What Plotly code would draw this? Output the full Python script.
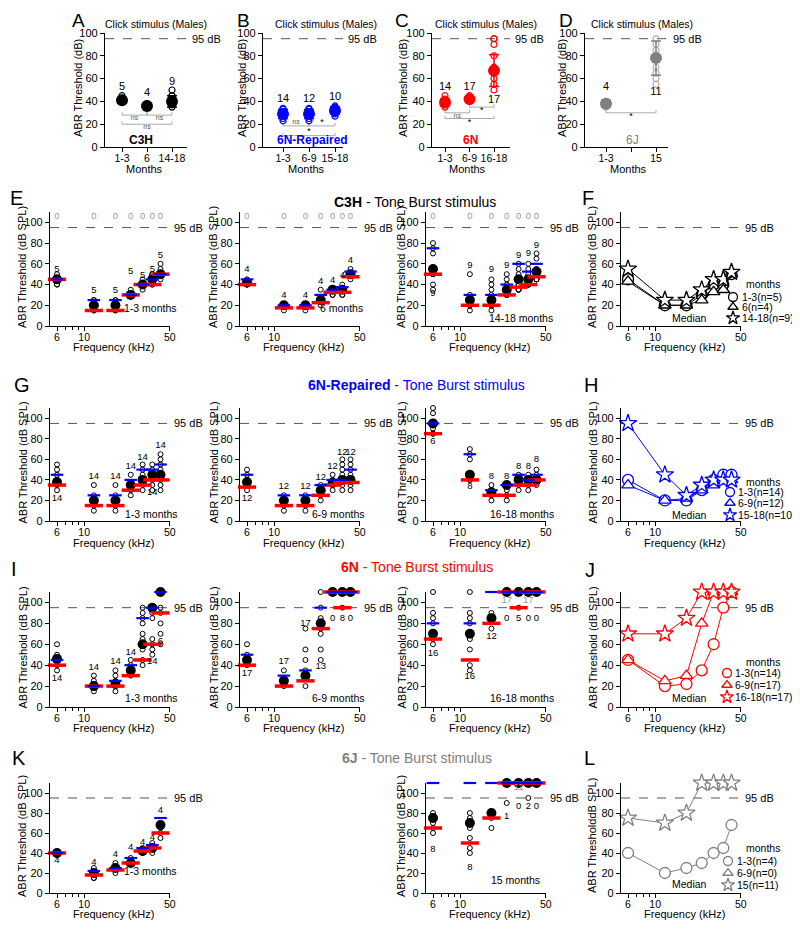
import math
import plotly.graph_objects as go

# page body has an 8px margin: figure is drawn 8px right/down, so size it to fit
OFF = 8
W, H = 800 - OFF, 930 - OFF

# ------------------------------------------------------------------ DATA
FREQ = [6, 12, 18, 24, 30, 36, 42]

# Row 1: click stimulus
A_cats = ["1-3", "6", "14-18"]
A_mean = [41, 36, 40]
A_sd = [2, 2, 5]
A_ind = [[40, 40, 42, 43, 45], [35, 35, 36, 38], [35, 37, 38, 40, 40, 42, 45, 45, 50]]
A_n = ["5", "4", "9"]
A_n_y = [52, 47, 57]
A_br = [(0, 1, 28, "ns", 25.5), (1, 2, 28, "ns", 25.5), (0, 2, 20, "ns", 17.5)]

B_cats = ["1-3", "6-9", "15-18"]
B_mean = [29, 29, 32]
B_sd = [4, 4, 3]
B_ind = [[23, 25, 27, 29, 31, 33, 34], [23, 25, 27, 29, 31, 33, 34], [27, 29, 31, 33, 35, 36]]
B_n = ["14", "12", "10"]
B_n_y = [42, 42, 44]
B_br = [(0, 1, 18.5, "ns", 22), (1, 2, 18.5, "*", 21.5), (0, 2, 10, "*", 13.5)]

C_cats = ["1-3", "6-9", "16-18"]
C_mean = [39, 42, 67]
C_sd = [3, 2, 14]
C_ind = [[35, 37, 40, 42, 45], [40, 42, 43, 45], [95, 95, 90, 80, 70, 65, 60, 55, 50]]
C_n = ["14", "17", "17"]
C_n_y = [52, 52, 41]
C_br = [(0, 1, 30, "ns", 27), (1, 2, 35, "*", 32), (0, 2, 25, "*", 21)]

D_cats = ["1-3", "", "15"]
D_pos = [0, 2]
D_mean = [38, 78]
D_sd = [3, 15]
D_ind = [[35, 37, 40], [95, 90, 85, 80, 70, 65, 60, 55]]
D_n = ["4", "11"]
D_n_y = [52, 48]
D_br = [(0, 2, 30, "*", 26.5)]

# Tone burst panels: mean (black), median (red bar), upper (blue bar)
E1_mean = [45, 20, 20, 30, 40, 45, 50]
E1_med = [45, 15, 15, 30, 40, 40, 50]
E1_up = [45, 25, 25, 30, 40, 45, 50]
E1_ind = [[40, 40, 45, 45, 50], [15, 15, 20, 25, 25], [15, 15, 20, 25, 25], [30, 30, 30, 30, 35],
          [35, 40, 40, 40, 45], [40, 40, 45, 50, 50], [45, 50, 50, 55, 60]]
E1_n = ["5", "5", "5", "5", "5", "5", "5"]
E1_n_y = [54, 34, 34, 52, 49, 54, 68]
E1_cnt = ["0", "0", "0", "0", "0", "0", "0"]
E1_cnt_y = [105.5] * 7

E2_mean = [42, 20, 20, 25, 35, 35, 50]
E2_med = [40, 17.5, 17.5, 22.5, 32.5, 32.5, 47.5]
E2_up = [45, 20, 20, 30, 35, 37.5, 52.5]
E2_ind = [[40, 40, 40, 45], [15, 20, 20, 20], [15, 20, 20, 20], [20, 25, 25, 35],
          [30, 30, 35, 35], [30, 30, 35, 40], [45, 50, 50, 55]]
E2_n = ["4", "4", "4", "4", "4", "4", "4"]
E2_n_y = [54, 29, 29, 43, 44, 49, 63]
E2_cnt = ["0", "0", "0", "0", "0", "0", "0"]
E2_cnt_y = [105.5] * 7

E3_mean = [55, 25, 25, 35, 45, 45, 52.5]
E3_med = [50, 20, 20, 30, 37.5, 40, 47.5]
E3_up = [75, 30, 30, 40, 60, 52.5, 60]
E3_ind = [[80, 75, 70, 50, 50, 50, 50, 40, 35], [50, 30, 25, 20, 20, 20, 20, 15, 20],
          [45, 40, 35, 30, 20, 20, 20, 15, 20], [50, 45, 40, 35, 30, 30, 30, 30, 30],
          [60, 55, 50, 45, 40, 35, 35, 35, 40], [60, 55, 50, 45, 40, 40, 40, 40, 40],
          [70, 65, 55, 50, 50, 45, 45, 45, 50]]
E3_n = ["9", "9", "9", "9", "9", "9", "9"]
E3_n_y = [31, 58, 54, 58, 68, 70, 78]
E3_cnt = ["0", "0", "0", "0", "0", "0", "0"]
E3_cnt_y = [105.5] * 7

F_c = [45, 20, 20, 30, 40, 40, 50]
F_t = [43, 20, 20, 25, 33, 35, 50]
F_s = [55, 25, 25, 35, 45, 45, 52]
F_leg = ["1-3(n=5)", "6(n=4)", "14-18(n=9)"]

G1_mean = [38, 20, 20, 35, 40, 45, 45]
G1_med = [35, 15, 15, 30, 35, 40, 40]
G1_up = [45, 25, 25, 40, 50, 50, 55]
G1_ind = [[55, 50, 45, 40, 35, 30], [35, 25, 20, 15, 10], [35, 25, 20, 15, 10], [45, 35, 30, 25],
          [55, 50, 45, 40, 35, 30], [55, 50, 45, 40, 35, 30], [65, 60, 55, 50, 45, 40, 35, 30]]
G1_n = ["14", "14", "14", "14", "14", "14", "14"]
G1_n_y = [22, 43, 43, 53, 62, 28, 73]
G1_cnt = ["0", "0", "0", "0", "0", "0", "0"]
G1_cnt_y = [116.5] * 7

G2_mean = [38, 20, 20, 30, 37, 40, 40]
G2_med = [33, 15, 15, 25, 35, 37.5, 37.5]
G2_up = [45, 25, 25, 35, 40, 40, 50]
G2_ind = [[50, 45, 40, 35, 30], [10, 15, 20, 25], [10, 15, 20, 25], [35, 30, 25, 20],
          [45, 40, 35, 30], [60, 55, 50, 45, 40, 35, 30], [60, 55, 50, 45, 40, 35, 30]]
G2_n = ["12", "12", "12", "12", "12", "12", "12"]
G2_n_y = [22, 33, 33, 42, 53, 67, 67]
G2_cnt = ["0", "0", "0", "0", "0", "0", "0"]
G2_cnt_y = [116.5] * 7

G3_mean = [95, 45, 28, 35, 40, 40, 40]
G3_med = [85, 40, 25, 25, 35, 35, 40]
G3_up = [95, 65, 30, 35, 45, 40, 45]
G3_ind = [[110, 105, 95, 90, 85, 85], [70, 65, 60, 45, 40, 40], [35, 30, 25, 20], [35, 30, 25, 20],
          [45, 40, 35, 30], [45, 40, 35, 30], [50, 45, 40, 35]]
G3_n = ["6", "8", "8", "8", "8", "8", "8"]
G3_n_y = [77, 33, 43, 43, 53, 53, 60]
G3_cnt = ["2", "0", "0", "0", "0", "0", "0"]
G3_cnt_y = [116.5] * 7

H_c = [40, 20, 20, 30, 40, 45, 45]
H_t = [35, 20, 22, 30, 35, 40, 40]
H_s = [95, 45, 25, 35, 40, 40, 40]
H_leg = ["1-3(n=14)", "6-9(n=12)", "15-18(n=10)"]

I1_mean = [46, 20, 22, 35, 60, 95, 110]
I1_med = [40, 20, 20, 30, 45, 60, 90]
I1_up = [45, 20, 25, 40, 85, 95, 110]
I1_ind = [[60, 50, 45, 40, 35], [30, 25, 20, 15], [35, 30, 25, 20, 15], [45, 40, 35, 30],
          [95, 90, 85, 80, 70, 65, 60, 55, 45, 40], [95, 90, 85, 65, 60, 55, 50], [95, 90, 80, 70, 60]]
I1_n = ["14", "14", "14", "14", "", "14", "6"]
I1_n_y = [27, 38, 43, 52, 0, 43, 63]
I1_cnt = ["0", "0", "0", "0", "0", "0", "8"]
I1_cnt_y = [118.5] * 7

I2_mean = [45, 25, 30, 80, 110, 110, 110]
I2_med = [40, 20, 25, 75, 110, 95, 110]
I2_up = [50, 30, 35, 95, 110, 110, 110]
I2_ind = [[60, 50, 45, 40], [35, 20], [75, 55, 45, 35, 20], [110, 95, 85, 80, 75, 70, 55, 45],
          [110], [110, 95], [110]]
I2_n = ["17", "17", "17", "13", "0", "8", "0"]
I2_n_y = [32, 43, 80, 39, 85, 85, 85]
I2_cnt = ["0", "0", "0", "4", "17", "9", "17"]
I2_cnt_y = [118.5] * 7

I3_mean = [70, 70, 85, 110, 110, 110, 110]
I3_med = [65, 45, 80, 110, 95, 110, 110]
I3_up = [80, 80, 110, 110, 110, 110, 110]
I3_ind = [[110, 90, 85, 80, 70, 65, 60], [110, 90, 85, 80, 70, 65, 55, 40, 35], [90, 75], [110],
          [110, 95], [110], [110]]
I3_n = ["16", "16", "12", "0", "5", "0", "0"]
I3_n_y = [51, 29, 67, 85, 85, 85, 85]
I3_cnt = ["1", "1", "5", "17", "12", "17", "17"]
I3_cnt_y = [118.5, 118.5, 118.5, 102, 118.5, 102, 118.5]

J_c = [45, 20, 22, 35, 60, 95, 110]
J_t = [45, 25, 30, 80, 110, 110, 110]
J_s = [70, 70, 85, 110, 110, 110, 110]
J_leg = ["1-3(n=14)", "6-9(n=17)", "16-18(n=17)"]

K1_mean = [40, 20, 25, 30, 42, 45, 68]
K1_med = [40, 18, 23, 30, 42, 45, 60]
K1_up = [40, 22, 25, 35, 45, 48, 75]
K1_ind = [[40, 40, 38], [25, 20, 15, 15], [30, 25, 20], [35, 30, 30], [45, 40], [50, 45, 40], [65, 60, 55]]
K1_n = ["4", "4", "4", "4", "4", "4", "4"]
K1_n_y = [32, 30, 38, 45, 50, 55, 82]
K1_cnt = ["0", "0", "0", "0", "0", "0", "0"]
K1_cnt_y = [117] * 7

K3_mean = [75, 70, 80, 110, 110, 110, 110]
K3_med = [65, 50, 75, 110, 110, 110, 110]
K3_up = [110, 110, 110, 110, 110, 110, 110]
K3_ind = [[80, 75, 70, 65, 60], [80, 75, 65, 55, 45, 40], [75, 65], [90], [], [95], []]
K3_n = ["8", "8", "", "1", "0", "2", "0"]
K3_n_y = [43, 25, 0, 76, 86, 86, 86]
K3_cnt = ["3", "3", "5", "10", "11", "9", "11"]
K3_cnt_y = [117, 117, 117, 117, 105, 117, 117]

L_c = [40, 20, 25, 30, 40, 45, 68]
L_s = [75, 70, 80, 110, 110, 110, 110]
L_leg = ["1-3(n=4)", "6-9(n=0)", "15(n=11)"]

# ------------------------------------------------------------------ STYLE / GEOMETRY
BLUE = "#0000ff"
RED = "#ff0000"
GRAY = "#808080"
LGRAY = "#b0b0b0"
CNT = "#999999"
FONT = "Arial"


def PX(px):
    return (px - OFF) / W


def PY(py):
    return 1 - (py - OFF) / H


fig = go.Figure()
layout = dict(width=W, height=H, margin=dict(l=0, r=0, t=0, b=0), autosize=False,
              paper_bgcolor="white", plot_bgcolor="white", showlegend=False,
              font=dict(family=FONT, size=11, color="black"))
anns = []


def ann(text, px, py, size=11, color="black", xanchor="center", yanchor="middle", angle=0):
    anns.append(dict(text=text, x=PX(px), y=PY(py), xref="paper", yref="paper", showarrow=False,
                     xanchor=xanchor, yanchor=yanchor, textangle=angle,
                     font=dict(family=FONT, size=size, color=color)))


ax_count = [0]


def new_axes(x0, x1, ytop, ybot, xtype, xr, yr, xtv, xtt, ytv, minor=False):
    ax_count[0] += 1
    k = "" if ax_count[0] == 1 else str(ax_count[0])
    common = dict(showline=True, linecolor="black", linewidth=1.3, ticks="outside", ticklen=4,
                  tickwidth=1.3, tickcolor="black", showgrid=False, zeroline=False, fixedrange=True,
                  automargin=False, tickfont=dict(family=FONT, size=11, color="black"))
    xa = dict(common, domain=[PX(x0), PX(x1)], anchor="y" + k, type=xtype, range=xr,
              tickmode="array", tickvals=xtv, ticktext=xtt, ticklabelstandoff=-3,
              tickfont=dict(family=FONT, size=10.5, color="black"))
    if minor:
        xa["minor"] = dict(tickvals=[7, 8, 9], ticks="outside", ticklen=2.5, tickwidth=1,
                           tickcolor="black")
    ya = dict(common, domain=[PY(ybot), PY(ytop)], anchor="x" + k, range=yr,
              tickmode="array", tickvals=ytv, ticktext=[str(v) for v in ytv])
    layout["xaxis" + k] = xa
    layout["yaxis" + k] = ya
    return "x" + k, "y" + k


# ------------------------------------------------------------------ ROW 1 (click)
R1_TOP, R1_BOT = 33, 147


def click_panel(x0, x1, c0, sp, cats, pos, mean, sd, ind, nl, nly, brs, fillc, openc, ttl_x,
                ytitle_x, months_x, label, label_x, tag, tag_x, tag_color, tag_bold):
    rng = [-(c0 - x0) / sp, (x1 - c0) / sp]
    xa, ya = new_axes(x0, x1, R1_TOP, R1_BOT, "linear", rng, [0, 100], [0, 1, 2], cats,
                      [0, 20, 40, 60, 80, 100])
    fig.add_trace(go.Scatter(x=[rng[0], rng[1] + 2 / sp], y=[95, 95], mode="lines",
                             line=dict(color="#555555", width=1, dash="dash"), xaxis=xa, yaxis=ya,
                             hoverinfo="skip", cliponaxis=False))
    ann("95 dB", x1 + 3, R1_BOT - 95 * (R1_BOT - R1_TOP) / 100, size=11, xanchor="left")
    for (i0, i1, yl, txt, ty) in brs:
        fig.add_trace(go.Scatter(x=[i0, i0, i1, i1], y=[yl + 2.5, yl, yl, yl + 2.5], mode="lines",
                                 line=dict(color="#aaaaaa", width=1), xaxis=xa, yaxis=ya,
                                 hoverinfo="skip"))
        fig.add_trace(go.Scatter(x=[(i0 + i1) / 2], y=[ty], mode="text", text=[txt],
                                 textfont=dict(family=FONT, size=7 if txt == "ns" else 9,
                                               color="#555555" if txt == "ns" else "black"),
                                 xaxis=xa, yaxis=ya, cliponaxis=False, hoverinfo="skip"))
    xs, ys = [], []
    for p, vals in zip(pos, ind):
        xs += [p] * len(vals)
        ys += vals
    fig.add_trace(go.Scatter(x=xs, y=ys, mode="markers",
                             marker=dict(symbol="circle-open", size=6, color=openc,
                                         line=dict(width=1.2, color=openc)),
                             xaxis=xa, yaxis=ya, cliponaxis=False, hoverinfo="skip"))
    fig.add_trace(go.Scatter(x=pos, y=mean, mode="markers",
                             marker=dict(symbol="circle", size=12, color=fillc),
                             error_y=dict(type="data", array=sd, color=fillc, thickness=1.5, width=5),
                             xaxis=xa, yaxis=ya, cliponaxis=False, hoverinfo="skip"))
    fig.add_trace(go.Scatter(x=pos, y=nly, mode="text", text=nl,
                             textfont=dict(family=FONT, size=11, color="black"),
                             xaxis=xa, yaxis=ya, cliponaxis=False, hoverinfo="skip"))
    ann("Click stimulus (Males)", ttl_x, 24, size=10.5)
    ann("ABR Threshold (dB)", ytitle_x, 88, size=11, angle=-90)
    ann("Months", months_x, 169, size=11)
    ann(label, label_x, OFF, size=19, xanchor="left", yanchor="top")
    ann(tag if not tag_bold else "<b>%s</b>" % tag, tag_x, 140, size=12, color=tag_color)


click_panel(105, 187, 122, 25, A_cats, [0, 1, 2], A_mean, A_sd, A_ind, A_n, A_n_y, A_br,
            "black", "black", 156, 78, 144, "A", 70, "C3H", 141, "black", True)
click_panel(263, 343, 283, 26, B_cats, [0, 1, 2], B_mean, B_sd, B_ind, B_n, B_n_y, B_br,
            BLUE, BLUE, 326, 242, 306, "B", 235, "6N-Repaired", 312, BLUE, True)
click_panel(432, 510, 445, 24.5, C_cats, [0, 1, 2], C_mean, C_sd, C_ind, C_n, C_n_y, C_br,
            RED, RED, 486, 403, 467, "C", 393, "6N", 470, RED, True)
click_panel(585, 668, 606, 25, D_cats, D_pos, D_mean, D_sd, D_ind, D_n, D_n_y, D_br,
            GRAY, LGRAY, 642, 562, 628, "D", 557, "6J", 632, GRAY, False)

# ------------------------------------------------------------------ TONE BURST ROWS
LOG0 = math.log10(5.26)
LOG1 = math.log10(50.2)
COLS_P6 = [57, 247, 433, 628]
COL_YT = [22, 213, 401, 592]
ROWS = {"E": (212, 326), "G": (408, 521), "I": (592, 707), "K": (783, 893)}
XT_Y = {"E": 347, "G": 543, "I": 727.5, "K": 914}


def fx(px, p6):
    return 10 ** (LOG0 + (px - (p6 - 7)) / 120.0 * (LOG1 - LOG0))


def fy(py, row):
    top, bot = ROWS[row]
    return (bot - py) / (bot - top) * 110.0


def tone_axes(col, row, ytitle="ABR Threshold (dB SPL)"):
    p6 = COLS_P6[col]
    top, bot = ROWS[row]
    xa, ya = new_axes(p6 - 7, p6 + 113, top, bot, "log", [LOG0, LOG1], [0, 110], [6, 10, 50],
                      ["6", "10", "50"], [0, 20, 40, 60, 80, 100], minor=True)
    fig.add_trace(go.Scatter(x=[10 ** LOG0, fx(p6 + 110, p6)], y=[95, 95], mode="lines",
                             line=dict(color="#555555", width=1, dash="dash"), xaxis=xa, yaxis=ya,
                             hoverinfo="skip"))
    ann("95 dB", p6 + 115, bot - 95 * (bot - top) / 110, size=11, xanchor="left")
    ann("Frequency (kHz)", p6 + 56, XT_Y[row], size=11)
    ann(ytitle, COL_YT[col], (top + bot) / 2 - 2, size=11, angle=-90)
    return xa, ya


def tone_panel(col, row, mean, med, up, ind, nl, nly, cnt, cnty, mtext, mx, my):
    xa, ya = tone_axes(col, row)
    xs, ys = [], []
    for f, vals in zip(FREQ, ind):
        xs += [f] * len(vals)
        ys += vals
    fig.add_trace(go.Scatter(x=xs, y=ys, mode="markers",
                             marker=dict(symbol="circle-open", size=5, color="black",
                                         line=dict(width=1, color="black")),
                             xaxis=xa, yaxis=ya, cliponaxis=False, hoverinfo="skip"))
    fig.add_trace(go.Scatter(x=FREQ, y=mean, mode="markers",
                             marker=dict(symbol="circle", size=10, color="black"),
                             xaxis=xa, yaxis=ya, cliponaxis=False, hoverinfo="skip"))
    fig.add_trace(go.Scatter(x=FREQ, y=med, mode="markers",
                             marker=dict(symbol="line-ew", size=13, color=RED,
                                         line=dict(width=3.5, color=RED)),
                             xaxis=xa, yaxis=ya, cliponaxis=False, hoverinfo="skip"))
    fig.add_trace(go.Scatter(x=FREQ, y=up, mode="markers",
                             marker=dict(symbol="line-ew", size=9, color=BLUE,
                                         line=dict(width=2.2, color=BLUE)),
                             xaxis=xa, yaxis=ya, cliponaxis=False, hoverinfo="skip"))
    fx_, fy_, ft_ = [], [], []
    for f, t, y in zip(FREQ, nl, nly):
        if t:
            fx_.append(f); fy_.append(y); ft_.append(t)
    fig.add_trace(go.Scatter(x=fx_, y=fy_, mode="text", text=ft_,
                             textfont=dict(family=FONT, size=9.5, color="black"),
                             xaxis=xa, yaxis=ya, cliponaxis=False, hoverinfo="skip"))
    fig.add_trace(go.Scatter(x=FREQ, y=cnty, mode="text", text=cnt,
                             textfont=dict(family=FONT, size=9.5, color=CNT),
                             xaxis=xa, yaxis=ya, cliponaxis=False, hoverinfo="skip"))
    ann(mtext, mx, my, size=10.5)


def median_panel(row, c, t, s, color, leg, leg_y, months_y, median_y, mk_x, tx_x):
    col = 3
    p6 = COLS_P6[col]
    xa, ya = tone_axes(col, row, "ABR ThresholddB SPL)" if row == "K" else "ABR Threshold (dB SPL)")
    for vals, sym, sz in [(c, "circle", 11), (t, "triangle-up", 11), (s, "star", 13)]:
        if vals is None:
            continue
        fig.add_trace(go.Scatter(x=FREQ, y=vals, mode="lines+markers",
                                 line=dict(color=color, width=1),
                                 marker=dict(symbol=sym, size=sz, color="white",
                                             line=dict(color=color, width=1.3)),
                                 xaxis=xa, yaxis=ya, cliponaxis=False, hoverinfo="skip"))
    for sym, sz, lab, py in zip(["circle", "triangle-up", "star"], [9, 9, 10], leg, leg_y):
        fig.add_trace(go.Scatter(x=[fx(mk_x, p6)], y=[fy(py, row)], mode="markers",
                                 marker=dict(symbol=sym, size=sz, color="white",
                                             line=dict(color=color, width=1.3)),
                                 xaxis=xa, yaxis=ya, cliponaxis=False, hoverinfo="skip"))
        ann(lab, tx_x, py, size=10.5, xanchor="left")
    ann("months", 763, months_y, size=10.5)
    ann("Median", p6 + 61, median_y, size=10.5)


tone_panel(0, "E", E1_mean, E1_med, E1_up, E1_ind, E1_n, E1_n_y, E1_cnt, E1_cnt_y, "1-3 months", 150, 308)
tone_panel(1, "E", E2_mean, E2_med, E2_up, E2_ind, E2_n, E2_n_y, E2_cnt, E2_cnt_y, "6 months", 341, 308)
tone_panel(2, "E", E3_mean, E3_med, E3_up, E3_ind, E3_n, E3_n_y, E3_cnt, E3_cnt_y, "14-18 months", 521, 318)
median_panel("E", F_c, F_t, F_s, "black", F_leg, [297, 307, 318], 284, 318, 733, 740)

tone_panel(0, "G", G1_mean, G1_med, G1_up, G1_ind, G1_n, G1_n_y, G1_cnt, G1_cnt_y, "1-3 months", 151, 514)
tone_panel(1, "G", G2_mean, G2_med, G2_up, G2_ind, G2_n, G2_n_y, G2_cnt, G2_cnt_y, "6-9 months", 338, 514)
tone_panel(2, "G", G3_mean, G3_med, G3_up, G3_ind, G3_n, G3_n_y, G3_cnt, G3_cnt_y, "16-18 months", 522, 514)
median_panel("G", H_c, H_t, H_s, BLUE, H_leg, [492, 503, 515], 482, 515, 730, 736)

tone_panel(0, "I", I1_mean, I1_med, I1_up, I1_ind, I1_n, I1_n_y, I1_cnt, I1_cnt_y, "1-3 months", 151, 698)
tone_panel(1, "I", I2_mean, I2_med, I2_up, I2_ind, I2_n, I2_n_y, I2_cnt, I2_cnt_y, "6-9 months", 338, 698)
tone_panel(2, "I", I3_mean, I3_med, I3_up, I3_ind, I3_n, I3_n_y, I3_cnt, I3_cnt_y, "16-18 months", 522, 698)
median_panel("I", J_c, J_t, J_s, RED, J_leg, [673, 685, 697], 662, 698, 727, 733)

tone_panel(0, "K", K1_mean, K1_med, K1_up, K1_ind, K1_n, K1_n_y, K1_cnt, K1_cnt_y, "1-3 months", 150, 871)
tone_panel(2, "K", K3_mean, K3_med, K3_up, K3_ind, K3_n, K3_n_y, K3_cnt, K3_cnt_y, "15 months", 515, 880)
median_panel("K", L_c, None, L_s, GRAY, L_leg, [861, 873, 885], 848, 884, 728, 735)

ann("<b>C3H</b> - Tone Burst stimulus", 415, 202, size=14, color="black")
ann("<b>6N-Repaired</b> - Tone Burst stimulus", 416, 385, size=14, color=BLUE)
ann("<b>6N</b> - Tone Burst stimulus", 417, 567, size=14, color=RED)
ann("<b>6J</b> - Tone Burst stimulus", 417, 758, size=14, color=GRAY)
for lab, px, py in [("E", 8, 198), ("F", 580, 198), ("G", 12, 385), ("H", 582, 385),
                    ("I", 9, 569), ("J", 583, 570), ("K", 10, 758), ("L", 582, 758)]:
    ann(lab, px, py, size=20, xanchor="left")

layout["annotations"] = anns
fig.update_layout(**layout)
fig.write_html("out.html")
